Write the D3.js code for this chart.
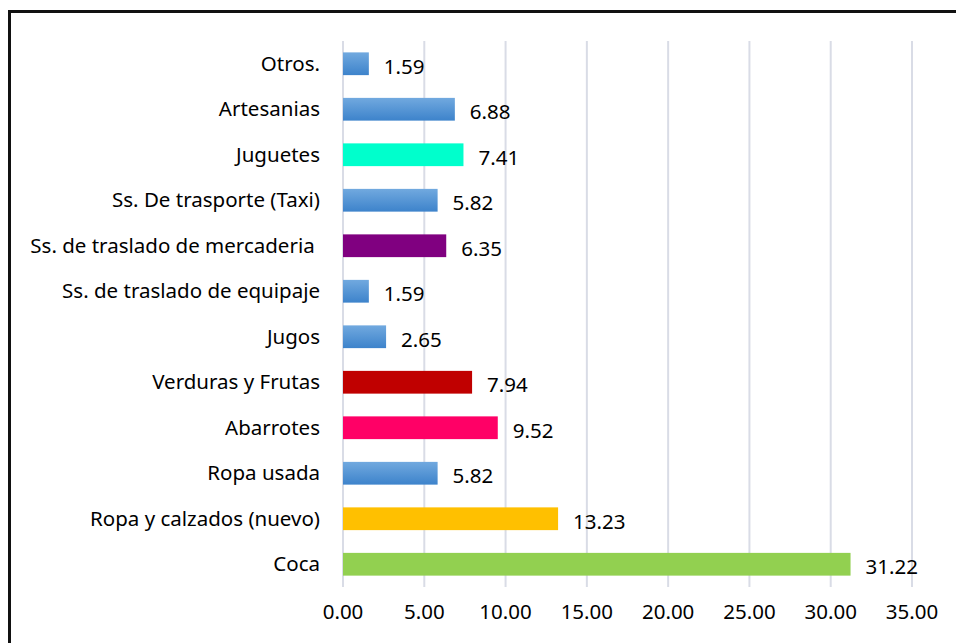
<!DOCTYPE html>
<html>
<head>
<meta charset="utf-8">
<script src="https://cdn.jsdelivr.net/npm/d3@7"></script>
<style>
  body { margin: 0; background: #fff; }
  svg text { font-family: "Noto Sans", sans-serif; font-weight: 400; fill: #000; }
</style>
</head>
<body>
<div id="chart"></div>
<script>
// categories, top to bottom
const categories = [
  "Otros.", "Artesanias", "Juguetes", "Ss. De trasporte (Taxi)",
  "Ss. de traslado de mercaderia ", "Ss. de traslado de equipaje", "Jugos",
  "Verduras y Frutas", "Abarrotes", "Ropa usada", "Ropa y calzados (nuevo)", "Coca"
];
const values = [1.59, 6.88, 7.41, 5.82, 6.35, 1.59, 2.65, 7.94, 9.52, 5.82, 13.23, 31.22];
const barColors = [
  "grad", "grad", "#00FFCC", "grad", "#800080", "grad", "grad",
  "#C00000", "#FF0066", "grad", "#FFC000", "#92D050"
];
const xTicks = [0, 5, 10, 15, 20, 25, 30, 35];

const W = 956, H = 643;
const margin = { left: 343, right: 44, top: 41, bottom: 56 };
const fontSize = "20.5px";

const svg = d3.select("#chart").append("svg")
  .attr("width", W).attr("height", H);

// blue gradient used by the un-highlighted bars
const grad = svg.append("defs").append("linearGradient")
  .attr("id", "blueGrad")
  .attr("x1", 0).attr("y1", 0).attr("x2", 0).attr("y2", 1);
grad.append("stop").attr("offset", "0%").attr("stop-color", "#71A9DF");
grad.append("stop").attr("offset", "100%").attr("stop-color", "#3D83CB");

// outer frame
svg.append("rect")
  .attr("x", 9.5).attr("y", 11.5)
  .attr("width", W + 20).attr("height", H + 20)
  .attr("fill", "none").attr("stroke", "#111").attr("stroke-width", 3);

const x = d3.scaleLinear().domain([0, 35]).range([margin.left, W - margin.right]);
const y = d3.scaleBand().domain(categories)
  .range([margin.top, H - margin.bottom]).paddingInner(0.5).paddingOuter(0.25);

// gridlines
svg.append("g").selectAll("line").data(xTicks).join("line")
  .attr("x1", d => x(d)).attr("x2", d => x(d))
  .attr("y1", margin.top).attr("y2", H - margin.bottom)
  .attr("stroke", "#D9DCE6").attr("stroke-width", 2);

// bars
svg.append("g").selectAll("rect").data(values).join("rect")
  .attr("x", x(0))
  .attr("y", (d, i) => y(categories[i]))
  .attr("width", d => x(d) - x(0))
  .attr("height", y.bandwidth())
  .attr("fill", (d, i) => barColors[i] === "grad" ? "url(#blueGrad)" : barColors[i]);

// value labels
svg.append("g").selectAll("text").data(values).join("text")
  .attr("x", d => x(d) + 15)
  .attr("y", (d, i) => y(categories[i]) + y.bandwidth() / 2 + 3)
  .attr("dy", "0.35em")
  .style("font-size", fontSize)
  .text(d => d.toFixed(2));

// category labels
svg.append("g").selectAll("text").data(categories).join("text")
  .attr("x", 320)
  .attr("y", d => y(d) + y.bandwidth() / 2)
  .attr("dy", "0.35em")
  .attr("text-anchor", "end")
  .attr("xml:space", "preserve")
  .style("white-space", "pre")
  .style("font-size", fontSize)
  .text(d => d);

// x axis tick labels
svg.append("g").selectAll("text").data(xTicks).join("text")
  .attr("x", d => x(d))
  .attr("y", 612)
  .attr("dy", "0.35em")
  .attr("text-anchor", "middle")
  .style("font-size", fontSize)
  .text(d => d.toFixed(2));
</script>
</body>
</html>
